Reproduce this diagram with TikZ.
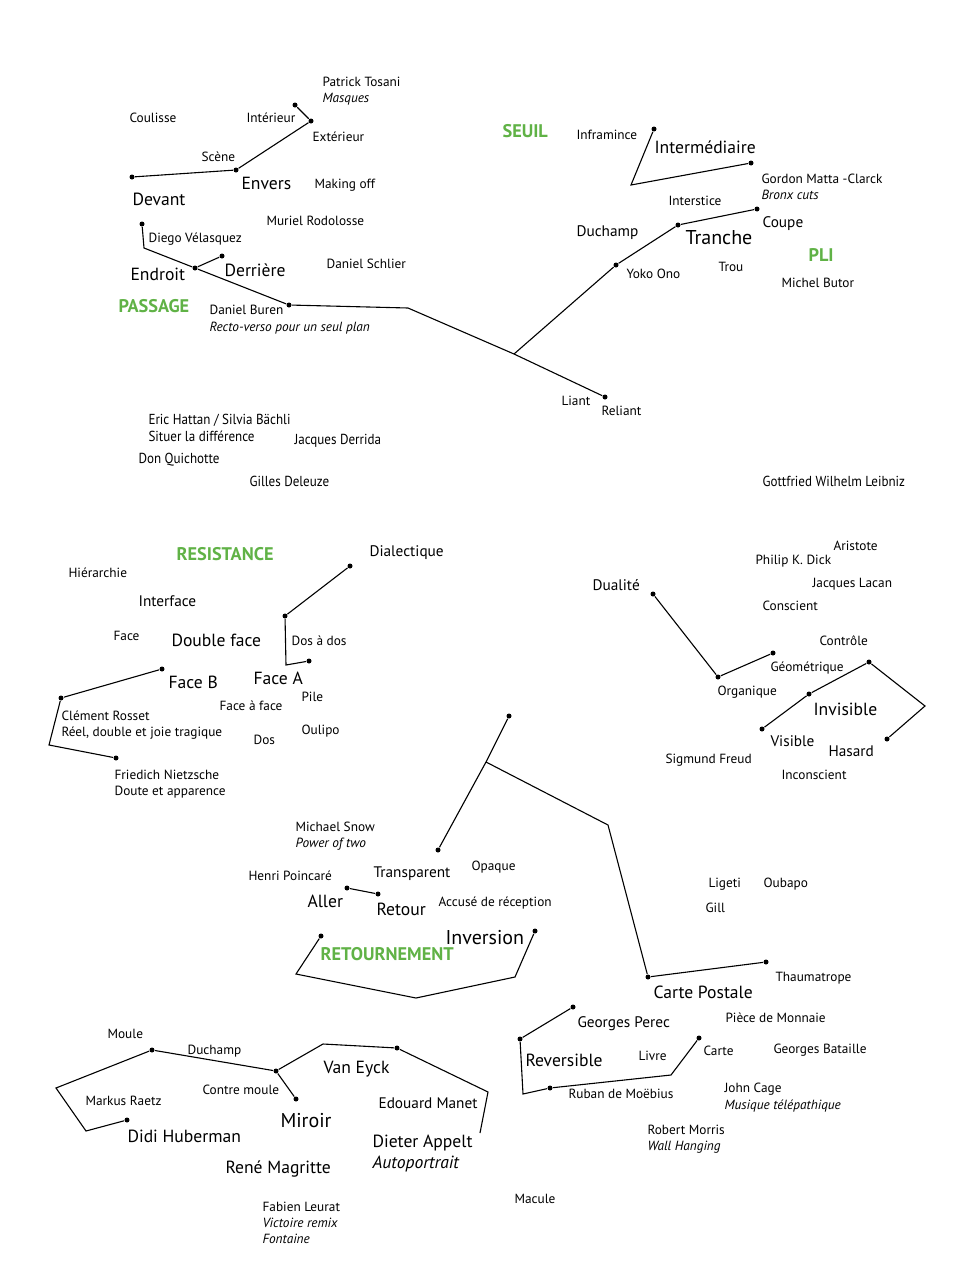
\documentclass[tikz,border=0pt]{standalone}
\usepackage{fontspec}
\setmainfont{PT Sans}
\newfontfamily\narrowfont{PT Sans}[FakeStretch=0.9]
\usepackage{xcolor}
\definecolor{leafgreen}{RGB}{96,178,70}

\begin{document}
\begin{tikzpicture}[x=1pt, y=-1pt, line width=1.1pt,
  dot/.style={circle, fill, inner sep=0pt, minimum size=5pt},
  lbase/.style={anchor=west, inner sep=0pt, text height=0.9em, text depth=0em},
  lab/.style={lbase, font=\fontsize{13.3}{16}\selectfont},
  labit/.style={lbase, font=\fontsize{13.3}{16}\selectfont\itshape},
  labn/.style={lbase, font=\fontsize{14.5}{17}\selectfont\narrowfont},
  labm/.style={lbase, yshift=-1pt, font=\fontsize{15.3}{18}\selectfont},
  labl/.style={lbase, yshift=-2pt, font=\fontsize{17.6}{20}\selectfont},
  labitl/.style={lbase, yshift=-2pt, font=\fontsize{17.6}{20}\selectfont\itshape},
  labxl/.style={lbase, yshift=-3pt, font=\fontsize{20}{24}\selectfont},
  cat/.style={lbase, yshift=-1pt, text=leafgreen, font=\fontsize{18.3}{21}\selectfont\bfseries}]
\useasboundingbox (0,0) rectangle (977,1269);

% passage
\node[lab] (tosani) at (322,82) {Patrick Tosani};
\node[labit] (masques) at (322,98) {Masques};
\node[lab] (coulisse) at (129,118) {Coulisse};
\node[lab] (interieur) at (246,118) {Intérieur};
\node[lab] (exterieur) at (312,137) {Extérieur};
\node[lab] (scene) at (201,157) {Scène};
\node[labl] (envers) at (241,183) {Envers};
\node[lab] (making) at (314,184) {Making off};
\node[labl] (devant) at (132,199) {Devant};
\node[lab] (rodolosse) at (266,221) {Muriel Rodolosse};
\node[lab] (velasquez) at (148,238) {Diego Vélasquez};
\node[labl] (endroit) at (130,274) {Endroit};
\node[labl] (derriere) at (224,270) {Derrière};
\node[lab] (schlier) at (326,264) {Daniel Schlier};
\node[cat] (passage) at (118,307) {PASSAGE};
\node[lab] (buren) at (209,310) {Daniel Buren};
\node[labit] (recto) at (209,327) {Recto-verso pour un seul plan};

\node[dot] (d1) at (295,105) {};
\node[dot] (d2) at (311,121) {};
\node[dot] (d3) at (236,170) {};
\node[dot] (d4) at (132,177) {};
\draw (d1) -- (d2) -- (d3) -- (d4);

\node[dot] (e1) at (142,224) {};
\coordinate (e1b) at (144,248);
\node[dot] (e2) at (195,268) {};
\node[dot] (e3) at (289,305) {};
\node[dot] (e4) at (222,256) {};
\coordinate (e3b) at (408,308);
\coordinate (hub) at (514,354);
\node[dot] (e5) at (605,397) {};
\draw (e1) -- (e1b) -- (e2) -- (e3) -- (e3b) -- (hub) -- (e5);
\draw (e2) -- (e4);

% seuil, pli
\node[cat] (seuil) at (502,132) {SEUIL};
\node[lab] (inframince) at (576,135) {Inframince};
\node[labl] (intermediaire) at (654,147) {Intermédiaire};
\node[lab] (matta) at (761,179) {Gordon Matta -Clarck};
\node[labit] (bronx) at (761,195) {Bronx cuts};
\node[lab] (interstice) at (668,201) {Interstice};
\node[labm] (duchampa) at (576,231) {Duchamp};
\node[labxl] (tranche) at (685,237) {Tranche};
\node[labm] (coupe) at (762,222) {Coupe};
\node[cat] (pli) at (808,256) {PLI};
\node[lab] (trou) at (718,267) {Trou};
\node[lab] (yoko) at (626,274) {Yoko Ono};
\node[lab] (butor) at (781,283) {Michel Butor};
\node[lab] (liant) at (561,401) {Liant};
\node[lab] (reliant) at (601,411) {Reliant};

\node[dot] (s1) at (654,129) {};
\coordinate (s1b) at (631,185);
\node[dot] (s2) at (751,163) {};
\draw (s1) -- (s1b) -- (s2);

\node[dot] (k1) at (616,265) {};
\node[dot] (k2) at (678,225) {};
\node[dot] (k3) at (757,209) {};
\draw (hub) -- (k1) -- (k2) -- (k3);

% middle names
\node[labn] (hattan) at (148,420) {Eric Hattan / Silvia Bächli};
\node[labn] (situer) at (148,437) {Situer la différence};
\node[labn] (derrida) at (294,440) {Jacques Derrida};
\node[labn] (quichotte) at (138,459) {Don Quichotte};
\node[labn] (deleuze) at (249,482) {Gilles Deleuze};
\node[labn] (leibniz) at (762,482) {Gottfried Wilhelm Leibniz};

% resistance
\node[cat] (resistance) at (176,555) {RESISTANCE};
\node[labm] (dialectique) at (369,551) {Dialectique};
\node[lab] (hierarchie) at (68,573) {Hiérarchie};
\node[labm] (interface) at (138,601) {Interface};
\node[lab] (face) at (113,636) {Face};
\node[labl] (doubleface) at (171,640) {Double face};
\node[lab] (dosados) at (291,641) {Dos à dos};
\node[labl] (faceb) at (168,682) {Face B};
\node[labl] (facea) at (253,678) {Face A};
\node[lab] (pile) at (301,697) {Pile};
\node[lab] (faceaface) at (219,706) {Face à face};
\node[lab] (rosset) at (61,716) {Clément Rosset};
\node[lab] (reel) at (61,732) {Réel, double et joie tragique};
\node[lab] (oulipo) at (301,730) {Oulipo};
\node[lab] (dos) at (253,740) {Dos};
\node[lab] (nietzsche) at (114,775) {Friedich Nietzsche};
\node[lab] (doute) at (114,791) {Doute et apparence};

\node[dot] (r1) at (350,566) {};
\node[dot] (r2) at (285,616) {};
\coordinate (r2b) at (286,665);
\node[dot] (r3) at (309,661) {};
\draw (r1) -- (r2) -- (r2b) -- (r3);

\node[dot] (b1) at (162,669) {};
\node[dot] (b2) at (61,698) {};
\coordinate (b2b) at (49,745);
\node[dot] (b3) at (116,758) {};
\draw (b1) -- (b2) -- (b2b) -- (b3);

% dualite
\node[lab] (aristote) at (833,546) {Aristote};
\node[lab] (dick) at (755,560) {Philip K. Dick};
\node[labm] (dualite) at (592,585) {Dualité};
\node[lab] (lacan) at (812,583) {Jacques Lacan};
\node[lab] (conscient) at (762,606) {Conscient};
\node[lab] (controle) at (819,641) {Contrôle};
\node[lab] (geometrique) at (770,667) {Géométrique};
\node[lab] (organique) at (717,691) {Organique};
\node[labl] (invisible) at (813,709) {Invisible};
\node[labm] (visible) at (770,741) {Visible};
\node[labm] (hasard) at (828,751) {Hasard};
\node[lab] (freud) at (665,759) {Sigmund Freud};
\node[lab] (inconscient) at (781,775) {Inconscient};

\node[dot] (u1) at (653,594) {};
\node[dot] (u2) at (718,677) {};
\node[dot] (u3) at (773,653) {};
\draw (u1) -- (u2) -- (u3);

\node[dot] (v1) at (762,729) {};
\node[dot] (v2) at (809,694) {};
\node[dot] (v3) at (869,662) {};
\coordinate (v3b) at (925,706);
\node[dot] (v4) at (887,739) {};
\draw (v1) -- (v2) -- (v3) -- (v3b) -- (v4);

% retournement
\node[lab] (snow) at (295,827) {Michael Snow};
\node[labit] (power) at (295,843) {Power of two};
\node[lab] (opaque) at (471,866) {Opaque};
\node[lab] (poincare) at (248,876) {Henri Poincaré};
\node[labm] (transparent) at (373,872) {Transparent};
\node[labl] (aller) at (307,901) {Aller};
\node[labl] (retour) at (376,909) {Retour};
\node[lab] (accuse) at (438,902) {Accusé de réception};
\node[labxl] (inversion) at (445,937) {Inversion};
\node[cat] (retournement) at (320,955) {RETOURNEMENT};
\node[lab] (ligeti) at (708,883) {Ligeti};
\node[lab] (oubapo) at (763,883) {Oubapo};
\node[lab] (gill) at (705,908) {Gill};
\node[lab] (thaumatrope) at (775,977) {Thaumatrope};
\node[labl] (cartepostale) at (653,992) {Carte Postale};

\node[dot] (t1) at (509,716) {};
\coordinate (hub2) at (486,762);
\node[dot] (t2) at (438,850) {};
\coordinate (t3b) at (608,825);
\node[dot] (t3) at (648,977) {};
\node[dot] (t4) at (766,962) {};
\draw (t1) -- (hub2) -- (t2);
\draw (hub2) -- (t3b) -- (t3) -- (t4);

\node[dot] (a1) at (347,888) {};
\node[dot] (a2) at (378,894) {};
\draw (a1) -- (a2);

\node[dot] (w1) at (321,936) {};
\coordinate (w1b) at (296,974);
\coordinate (w1c) at (416,998);
\coordinate (w1d) at (515,977);
\node[dot] (w2) at (535,931) {};
\draw (w1) -- (w1b) -- (w1c) -- (w1d) -- (w2);

% reversible
\node[labm] (perec) at (577,1022) {Georges Perec};
\node[lab] (piece) at (725,1018) {Pièce de Monnaie};
\node[lab] (carte) at (703,1051) {Carte};
\node[lab] (bataille) at (773,1049) {Georges Bataille};
\node[labl] (reversible) at (525,1060) {Reversible};
\node[lab] (livre) at (638,1056) {Livre};
\node[lab] (ruban) at (568,1094) {Ruban de Moëbius};
\node[lab] (cage) at (724,1088) {John Cage};
\node[labit] (musique) at (724,1105) {Musique télépathique};
\node[lab] (morris) at (647,1130) {Robert Morris};
\node[labit] (wall) at (647,1146) {Wall Hanging};
\node[lab] (macule) at (514,1199) {Macule};

\node[dot] (p1) at (573,1007) {};
\node[dot] (p2) at (520,1039) {};
\coordinate (p2b) at (523,1094);
\node[dot] (p3) at (550,1088) {};
\coordinate (p3b) at (671,1075);
\node[dot] (p4) at (699,1038) {};
\draw (p1) -- (p2) -- (p2b) -- (p3) -- (p3b) -- (p4);

% miroir
\node[lab] (moule) at (107,1034) {Moule};
\node[lab] (duchampb) at (187,1050) {Duchamp};
\node[labl] (vaneyck) at (323,1067) {Van Eyck};
\node[lab] (contremoule) at (202,1090) {Contre moule};
\node[lab] (raetz) at (85,1101) {Markus Raetz};
\node[labm] (manet) at (378,1103) {Edouard Manet};
\node[labxl] (miroir) at (280,1120) {Miroir};
\node[labl] (huberman) at (127,1136) {Didi Huberman};
\node[labl] (appelt) at (372,1141) {Dieter Appelt};
\node[labitl] (autoportrait) at (372,1162) {Autoportrait};
\node[labl] (magritte) at (225,1167) {René Magritte};
\node[lab] (leurat) at (262,1207) {Fabien Leurat};
\node[labit] (victoire) at (262,1223) {Victoire remix};
\node[labit] (fontaine) at (262,1239) {Fontaine};

\node[dot] (m1) at (127,1120) {};
\coordinate (m1b) at (86,1131);
\coordinate (m1c) at (56,1088);
\node[dot] (m2) at (152,1050) {};
\node[dot] (m3) at (276,1071) {};
\coordinate (m3b) at (323,1044);
\node[dot] (m4) at (397,1048) {};
\coordinate (m4b) at (488,1092);
\coordinate (m4c) at (480,1133);
\node[dot] (m5) at (296,1099) {};
\draw (m1) -- (m1b) -- (m1c) -- (m2) -- (m3) -- (m3b) -- (m4) -- (m4b) -- (m4c);
\draw (m3) -- (m5);
\end{tikzpicture}
\end{document}
